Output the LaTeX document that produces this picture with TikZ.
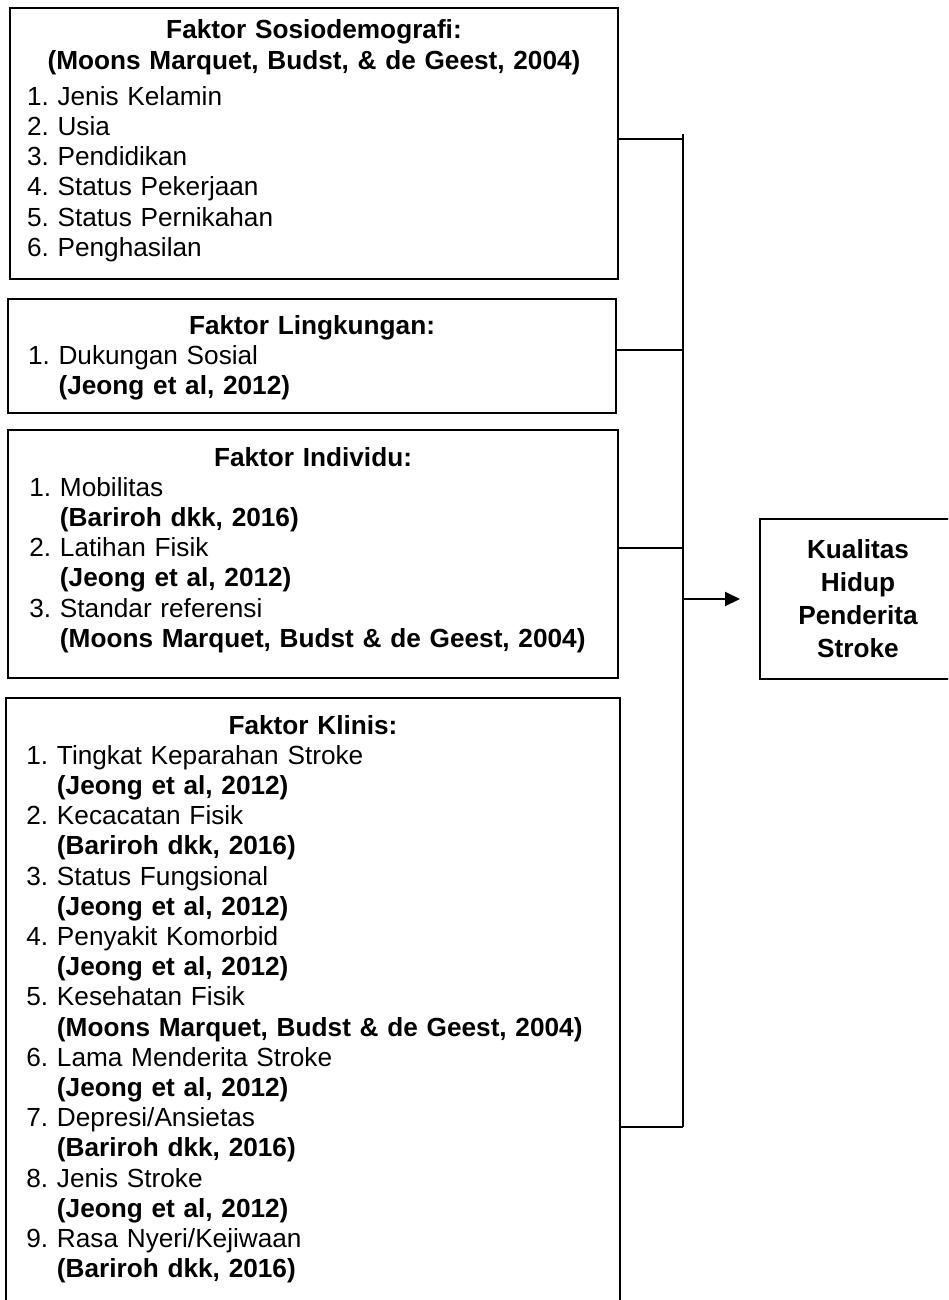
\documentclass[tikz,border=0pt]{standalone}
\usepackage{fontspec}
\setmainfont{Liberation Sans}
\usetikzlibrary{arrows.meta,calc}
\frenchspacing
\newcommand{\listfont}{\fontsize{13.1pt}{15.1pt}\selectfont}
\newcommand{\sumber}[1]{\hphantom{1. }\textbf{#1}}
\tikzset{%
  factor/.style={draw,anchor=north west,inner ysep=0pt,align=left,font=\listfont},
  outcome/.style={draw,anchor=north west,inner sep=0pt,align=center,
    font={\fontsize{13.1pt}{16.5pt}\selectfont\bfseries}}
}

\begin{document}
\begin{tikzpicture}[x=0.5pt,y=-0.5pt,line width=1pt]
  \clip (0,0) rectangle (948,1300);
  \node[factor,inner xsep=8.5pt,text width=287pt,text height=15.5pt,text depth=120pt] (f0) at (9,7)
    {{\centering\bfseries Faktor Sosiodemografi:\\(Moons Marquet, Budst, \& de Geest, 2004)\par}
     \vspace{3pt}\noindent
     1. Jenis Kelamin\\
     2. Usia\\
     3. Pendidikan\\
     4. Status Pekerjaan\\
     5. Status Pernikahan\\
     6. Penghasilan};
  \node[factor,inner xsep=10pt,text width=284pt,text height=17.5pt,text depth=39.5pt] (f1) at (7,298)
    {{\centering\bfseries Faktor Lingkungan:\par}\noindent
     1. Dukungan Sosial\\
     \sumber{(Jeong et al, 2012)}};
  \node[factor,inner xsep=10.7pt,text width=283.6pt,text height=18pt,text depth=106pt] (f2) at (7,429)
    {{\centering\bfseries Faktor Individu:\par}\noindent
     1. Mobilitas\\
     \sumber{(Bariroh dkk, 2016)}\\
     2. Latihan Fisik\\
     \sumber{(Jeong et al, 2012)}\\
     3. Standar referensi\\
     \sumber{(Moons Marquet, Budst \& de Geest, 2004)}};
  \node[factor,inner xsep=10.2pt,text width=286.6pt,text height=18pt,text depth=293.5pt] (f3) at (5,697)
    {{\centering\bfseries Faktor Klinis:\par}\noindent
     1. Tingkat Keparahan Stroke\\
     \sumber{(Jeong et al, 2012)}\\
     2. Kecacatan Fisik\\
     \sumber{(Bariroh dkk, 2016)}\\
     3. Status Fungsional\\
     \sumber{(Jeong et al, 2012)}\\
     4. Penyakit Komorbid\\
     \sumber{(Jeong et al, 2012)}\\
     5. Kesehatan Fisik\\
     \sumber{(Moons Marquet, Budst \& de Geest, 2004)}\\
     6. Lama Menderita Stroke\\
     \sumber{(Jeong et al, 2012)}\\
     7. Depresi/Ansietas\\
     \sumber{(Bariroh dkk, 2016)}\\
     8. Jenis Stroke\\
     \sumber{(Jeong et al, 2012)}\\
     9. Rasa Nyeri/Kejiwaan\\
     \sumber{(Bariroh dkk, 2016)}};
  \node[outcome,text width=98pt,minimum height=80pt] (kh) at (759,518)
    {Kualitas\\Hidup\\Penderita\\Stroke};
  %%%
  \coordinate (bus0) at (683,134);
  \coordinate (bus1) at (683,1127);
  \coordinate (c0) at ([yshift=2.25pt]f0.east);
  \coordinate (c1) at ([yshift=3pt]f1.east);
  \coordinate (c2) at ([yshift=3pt]f2.east);
  \draw (bus0) -- (bus1);
  \draw (c0) -- (c0 -| bus0);
  \draw (c1) -- (c1 -| bus0);
  \draw (c2) -- (c2 -| bus0);
  \draw (bus1 -| f3.east) -- (bus1);
  \draw[-{Triangle[length=7.5pt,width=7pt]}] (kh.west -| bus0) -- ([xshift=-9.5pt]kh.west);
\end{tikzpicture}
\end{document}
